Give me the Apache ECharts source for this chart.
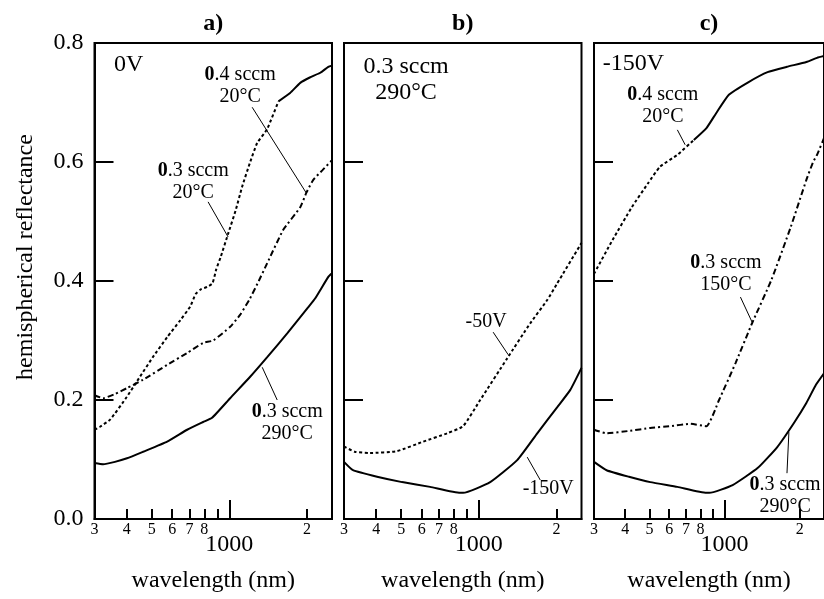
<!DOCTYPE html>
<html><head><meta charset="utf-8">
<script src="https://cdn.jsdelivr.net/npm/echarts@6/dist/echarts.min.js"></script>
<style>html,body{margin:0;padding:0;background:#fff}#c{width:824px;height:599px}</style>
</head><body><div id="c"></div>
<script>
const FONT = "'Liberation Serif','Times New Roman',serif";
const panelTitles = ['a)', 'b)', 'c)'];
const xMin = 300, xMax = 2500;
const yMin = 0, yMax = 0.8, yStep = 0.2;
const xMinorTicks = [400, 500, 600, 700, 800, 900, 2000];
const xMajorTicks = [1000];
const xLabelValues = [300, 400, 500, 600, 700, 800, 1000, 2000];
const xLabelText = ['3', '4', '5', '6', '7', '8', '1000', '2'];

// panel a) 0V
const a_04sccm_20C = [[300,0.150],[315,0.155],[345,0.167],[400,0.205],[450,0.239],[505,0.272],[575,0.306],[645,0.334],[705,0.357],[740,0.378],[775,0.386],[820,0.390],[860,0.396],[890,0.420],[925,0.440],[990,0.480],[1060,0.520],[1120,0.558],[1200,0.598],[1282,0.632],[1400,0.655],[1550,0.702],[1720,0.716],[1883,0.733],[2050,0.742],[2252,0.750],[2419,0.760],[2500,0.762]];
const a_03sccm_20C = [[300,0.208],[324,0.203],[360,0.210],[401,0.220],[463,0.234],[574,0.259],[686,0.279],[791,0.296],[865,0.300],[1007,0.323],[1100,0.343],[1200,0.370],[1300,0.400],[1402,0.430],[1618,0.486],[1883,0.524],[1987,0.548],[2115,0.570],[2292,0.586],[2500,0.603]];
const a_03sccm_290C = [[300,0.094],[324,0.092],[360,0.096],[401,0.102],[463,0.113],[574,0.130],[686,0.150],[791,0.163],[857,0.170],[1007,0.203],[1204,0.239],[1402,0.272],[1676,0.312],[2005,0.354],[2153,0.371],[2419,0.407],[2500,0.413]];
// panel b) 0.3 sccm 290°C
const b_m50V = [[300,0.122],[330,0.113],[378,0.111],[481,0.114],[608,0.130],[753,0.144],[869,0.156],[1012,0.200],[1288,0.270],[1582,0.329],[1841,0.368],[2000,0.394],[2500,0.464]];
const b_m150V = [[300,0.096],[325,0.082],[403,0.071],[504,0.062],[647,0.054],[846,0.044],[869,0.044],[1106,0.062],[1408,0.099],[1684,0.144],[2014,0.188],[2262,0.217],[2500,0.254]];
// panel c) -150V
const c_04sccm_20C = [[300,0.412],[356,0.469],[425,0.524],[495,0.565],[551,0.592],[647,0.612],[753,0.637],[846,0.657],[925,0.682],[1040,0.713],[1243,0.734],[1486,0.751],[1777,0.760],[2125,0.768],[2344,0.775],[2500,0.778]];
const c_03sccm_150C = [[300,0.150],[337,0.144],[414,0.148],[504,0.153],[608,0.156],[727,0.160],[846,0.156],[950,0.200],[1106,0.262],[1288,0.329],[1540,0.402],[1841,0.491],[2125,0.570],[2262,0.600],[2344,0.612],[2500,0.640]];
const c_03sccm_290C = [[300,0.096],[337,0.082],[414,0.071],[504,0.062],[647,0.054],[846,0.044],[869,0.044],[1077,0.057],[1359,0.086],[1625,0.121],[1892,0.161],[2125,0.195],[2324,0.226],[2500,0.245]];

const curves = [
  {panel:0, data:a_04sccm_20C, style:'dot', solidFrom:1550},
  {panel:0, data:a_03sccm_20C, style:'dashdot'},
  {panel:0, data:a_03sccm_290C, style:'solid'},
  {panel:1, data:b_m50V, style:'dot'},
  {panel:1, data:b_m150V, style:'solid'},
  {panel:2, data:c_04sccm_20C, style:'dot', solidFrom:753},
  {panel:2, data:c_03sccm_150C, style:'dashdot'},
  {panel:2, data:c_03sccm_290C, style:'solid'}
];

// annotations: [wavelength, reflectance] anchors
const annotations = [
  {panel:0, text:'0V', at:[357,0.763], align:'left', size:24},
  {panel:0, text:'{b|0}.4 sccm\n20°C', at:[1101,0.728], size:20},
  {panel:0, text:'{b|0}.3 sccm\n20°C', at:[724,0.567], size:20},
  {panel:0, text:'{b|0}.3 sccm\n290°C', at:[1676,0.161], size:20},
  {panel:1, text:'0.3 sccm\n290°C', at:[522,0.739], size:24},
  {panel:1, text:'-50V', at:[1067,0.331], size:20},
  {panel:1, text:'-150V', at:[1858,0.0504], size:20},
  {panel:2, text:'-150V', at:[325,0.765], align:'left', size:24},
  {panel:2, text:'{b|0}.4 sccm\n20°C', at:[566,0.694], size:20},
  {panel:2, text:'{b|0}.3 sccm\n150°C', at:[1012,0.4126], size:20},
  {panel:2, text:'{b|0}.3 sccm\n290°C', at:[1746,0.0387], size:20}
];
const leaders = [
  {panel:0, from:[1226,0.692], to:[1987,0.548]},
  {panel:0, from:[827,0.533], to:[989,0.474]},
  {panel:0, from:[1341,0.255], to:[1533,0.200]},
  {panel:1, from:[1136,0.314], to:[1300,0.276]},
  {panel:1, from:[1540,0.104], to:[1730,0.0655]},
  {panel:2, from:[647,0.654], to:[695,0.629]},
  {panel:2, from:[1157,0.373], to:[1288,0.331]},
  {panel:2, from:[1809,0.146], to:[1777,0.077]}
];

const L = Math.log10;
const gridLeft = [94.5, 344, 594];
const gridTop = 43, gridW = 237.5, gridH = 476;

const grids = [], xAxes = [], yAxes = [], series = [];
for (let i = 0; i < 3; i++) {
  grids.push({left:gridLeft[i], top:gridTop, width:gridW, height:gridH, show:true, borderColor:'#000', borderWidth:2, backgroundColor:'transparent', containLabel:false});
  xAxes.push({
    type:'value', gridIndex:i, min:L(xMin), max:L(xMax),
    axisLine:{show:true, onZero:false, lineStyle:{color:'#000', width:2}},
    axisTick:{show:true, inside:true, length:10, lineStyle:{color:'#000', width:2}, customValues: xMinorTicks.map(L)},
    axisLabel:{show:true, customValues: xLabelValues.map(L), color:'#000', fontFamily:FONT, fontSize:16, margin:3,
      formatter: v => { const k = xLabelValues.findIndex(w => Math.abs(L(w) - v) < 1e-6); const t = k >= 0 ? xLabelText[k] : ''; return t === '1000' ? '{big|1000}' : t; },
      rich:{big:{fontSize:24, fontFamily:FONT, color:'#000', padding:[11,0,0,0]}}},
    splitLine:{show:false},
    name:'wavelength (nm)', nameLocation:'middle', nameGap:50,
    nameTextStyle:{fontSize:24, fontFamily:FONT, color:'#000'}
  });
  yAxes.push({
    type:'value', gridIndex:i, min:yMin, max:yMax, interval:yStep,
    axisLine:{show:true, lineStyle:{color:'#000', width:2}},
    axisTick:{show:true, inside:true, length:19, lineStyle:{color:'#000', width:2}},
    axisLabel:{show:i === 0, color:'#000', fontFamily:FONT, fontSize:24, margin:11, formatter: v => v.toFixed(1)},
    splitLine:{show:false}
  });
}
// overlay grids for the long 1000 tick
for (let i = 0; i < 3; i++) {
  grids.push({left:gridLeft[i], top:gridTop, width:gridW, height:gridH, show:false});
  xAxes.push({
    type:'value', gridIndex:3 + i, min:L(xMin), max:L(xMax),
    axisLine:{show:false},
    axisTick:{show:true, inside:true, length:19, lineStyle:{color:'#000', width:2}, customValues: xMajorTicks.map(L)},
    axisLabel:{show:false}, splitLine:{show:false}
  });
  yAxes.push({type:'value', gridIndex:3 + i, min:yMin, max:yMax, show:false});
}

function lineStyleOf(s) {
  if (s === 'dot') return {color:'#000', width:2, type:[3,2.5]};
  if (s === 'dashdot') return {color:'#000', width:2, type:[6,3,2,3]};
  return {color:'#000', width:2, type:'solid'};
}
function addSeries(panel, pts, style) {
  series.push({type:'line', xAxisIndex:panel, yAxisIndex:panel, symbol:'none', smooth:0.15, animation:false,
    lineStyle:lineStyleOf(style), data: pts.map(p => [L(p[0]), p[1]])});
}
curves.forEach(c => {
  if (c.solidFrom) {
    addSeries(c.panel, c.data.filter(p => p[0] <= c.solidFrom), c.style);
    addSeries(c.panel, c.data.filter(p => p[0] >= c.solidFrom), 'solid');
  } else addSeries(c.panel, c.data, c.style);
});

const chart = echarts.init(document.getElementById('c'), null, {renderer:'canvas'});
chart.setOption({animation:false, backgroundColor:'#fff', grid:grids, xAxis:xAxes, yAxis:yAxes, series:series});

const px = (panel, w, r) => chart.convertToPixel({gridIndex:panel}, [L(w), r]);
const graphics = [];
panelTitles.forEach((t, i) => {
  const p = px(i, Math.pow(10, (L(xMin) + L(xMax)) / 2), 0.833);
  graphics.push({type:'text', x:p[0], y:p[1], style:{text:t, fontFamily:FONT, fontSize:24, fontWeight:'bold', fill:'#000', align:'center', verticalAlign:'middle'}});
});
annotations.forEach(a => {
  const p = px(a.panel, a.at[0], a.at[1]);
  graphics.push({type:'text', x:p[0], y:p[1], style:{text:a.text, fontFamily:FONT, fontSize:a.size, fill:'#000', align:a.align || 'center', verticalAlign:'middle', lineHeight:a.size + 2,
    rich:{b:{fontFamily:FONT, fontSize:a.size, fontWeight:'bold', fill:'#000', lineHeight:a.size + 2}}}});
});
leaders.forEach(l => {
  const p1 = px(l.panel, l.from[0], l.from[1]), p2 = px(l.panel, l.to[0], l.to[1]);
  graphics.push({type:'line', shape:{x1:p1[0], y1:p1[1], x2:p2[0], y2:p2[1]}, style:{stroke:'#000', lineWidth:1}});
});
graphics.push({type:'text', x:26, y:257, rotation:Math.PI / 2, style:{text:'hemispherical reflectance', fontFamily:FONT, fontSize:24, fill:'#000', align:'center', verticalAlign:'middle'}});
chart.setOption({graphic:graphics});
</script></body></html>
